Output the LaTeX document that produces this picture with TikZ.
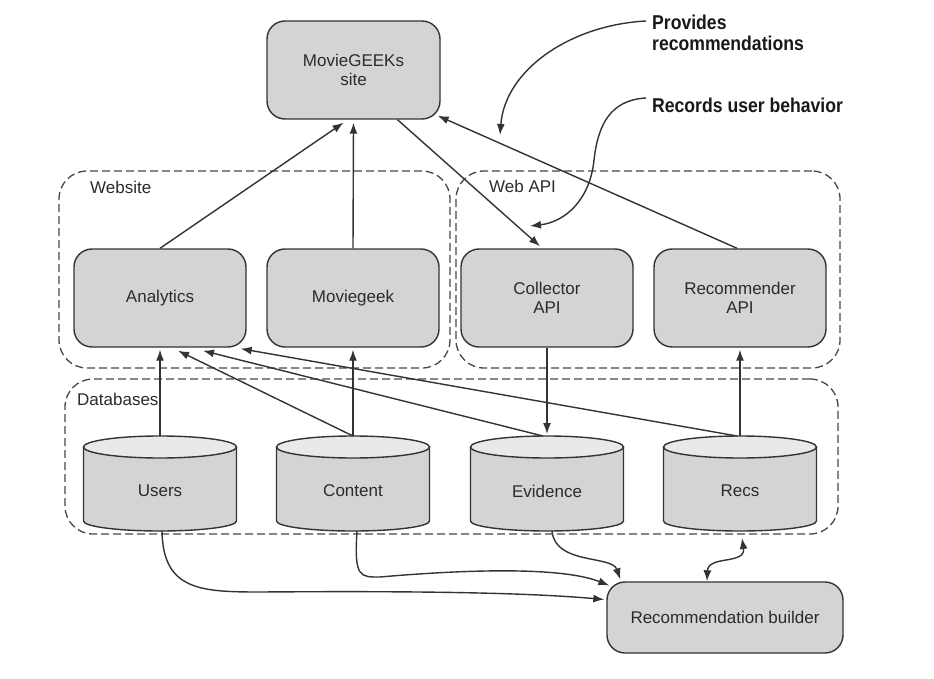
\documentclass[tikz,border=0pt]{standalone}
\usepackage{fontspec}
\setmainfont{Liberation Sans}
\newfontfamily\annotfont[FakeStretch=0.88]{Liberation Sans}
\usetikzlibrary{arrows.meta,calc}
\definecolor{boxfill}{HTML}{D4D4D4}
\definecolor{topfill}{HTML}{E9E9E9}
\definecolor{edge}{HTML}{333333}
\definecolor{txt}{HTML}{2B2B2B}
\tikzset{
  lbl/.style={text=txt, font=\fontsize{17}{19}\selectfont},
  box/.style={lbl, draw=edge, fill=boxfill, line width=1.4pt, rounded corners=18pt,
    minimum width=172pt, minimum height=98pt, align=center, inner sep=0pt},
  group/.style={draw=edge!90, dash pattern=on 8pt off 4pt, line width=1.3pt,
    rounded corners=28pt, inner sep=0pt},
  grouplabel/.style={lbl, anchor=west, inner sep=0pt},
  conn/.style={draw=edge, line width=1.4pt, -{Latex[length=11pt,width=8pt]}},
  annot/.style={anchor=west, inner sep=0pt, align=left, text=black!90,
    font=\annotfont\bfseries\fontsize{20}{21}\selectfont},
  cylbody/.style={draw=edge, fill=boxfill, line width=1.4pt},
  cyltop/.style={draw=edge, fill=topfill, line width=1.4pt},
  dbtext/.style={lbl, inner sep=0pt}
}
\newcommand\dbcyl[3]{%
  \path[cylbody] (#1-76.5,447) -- (#1-76.5,521)
    arc[start angle=180, end angle=360, x radius=76.5pt, y radius=10pt]
    -- (#1+76.5,447) -- cycle;
  \path[cyltop] (#1,447) ellipse[x radius=76.5pt, y radius=11pt];
  \node[dbtext] (#2) at (#1,491) {#3};
  \coordinate (#2-top) at (#1,436);
  \coordinate (#2-bot) at (#1,531);
}
\begin{document}
\begin{tikzpicture}[x=1pt,y=-1pt]
\fill[white] (0,0) rectangle (934,679);
\useasboundingbox (0,0) rectangle (934,679);

% groups
\node[group, minimum width=391pt, minimum height=197pt] (website) at (254.5,269.5) {};
\node[group, minimum width=384pt, minimum height=197pt] (webapi) at (648,269.5) {};
\node[group, minimum width=773pt, minimum height=155pt] (databases) at (451.5,456.5) {};
\node[grouplabel] (websitelbl) at (90,187) {Website};
\node[grouplabel] (webapilbl) at (489,186) {Web API};
\node[grouplabel] (databaseslbl) at (77,399) {Databases};

% boxes
\node[box, minimum width=173pt] (site) at (353.5,70) {MovieGEEKs\\site};
\node[box] (analytics) at (160,298) {Analytics};
\node[box] (moviegeek) at (353,298) {Moviegeek};
\node[box] (collector) at (547,298) {Collector\\API};
\node[box] (recapi) at (740,298) {Recommender\\API};
\node[box, minimum width=236pt, minimum height=71pt] (builder) at (725,617.5) {Recommendation builder};

% databases
\dbcyl{160}{users}{Users}
\dbcyl{353}{content}{Content}
\dbcyl{547}{evidence}{Evidence}
\dbcyl{740}{recs}{Recs}

% connectors
\draw[conn] (analytics.north) -- ([xshift=-10pt,yshift=-3pt]site.south);
\draw[conn] (moviegeek.north) -- ([yshift=-3pt]site.south);
\draw[conn] ([xshift=44pt]site.south) -- ([xshift=-7pt,yshift=2pt]collector.north);
\draw[conn] ([xshift=-3pt]recapi.north) -- ([xshift=-3pt,yshift=4pt]site.south east);
\draw[conn] (users-top) -- ([yshift=-2pt]analytics.south);
\draw[conn] (content-top) -- ([yshift=-2pt]moviegeek.south);
\draw[conn] (content-top) -- ([xshift=18pt,yshift=-3pt]analytics.south);
\draw[conn] ([xshift=-4pt]evidence-top) -- ([xshift=43pt,yshift=-3pt]analytics.south);
\draw[conn] ([xshift=-3pt]recs-top) -- ([xshift=-6pt,yshift=-1pt]analytics.south east);
\draw[conn] (collector.south) -- ([yshift=2pt]evidence-top);
\draw[conn] (recs-top) -- ([yshift=-2pt]recapi.south);

\draw[conn] ([xshift=2pt]users-bot) .. controls (163,590) and (200,592) .. (260,592)
  .. controls (400,591) and (520,592) .. ([xshift=-2pt,yshift=18pt]builder.west);
\draw[conn] ([xshift=4pt]content-bot) .. controls (354,578) and (360,577) .. (380,577)
  .. controls (460,570) and (560,566) .. ([xshift=3pt,yshift=32pt]builder.west);
\draw[conn] ([xshift=5pt]evidence-bot) .. controls (555,565) and (612,555) .. ([xshift=14pt,yshift=2pt]builder.north west);
\draw[draw=edge, line width=1.4pt, {Latex[length=11pt,width=8pt]}-{Latex[length=11pt,width=8pt]}]
  ([xshift=2pt,yshift=-7pt]recs-bot) .. controls (746,565) and (708,555) .. ([xshift=-18pt]builder.north);

% annotations
\node[annot] (prov) at (652,33) {Provides\\recommendations};
\node[annot] (recb) at (652,105) {Records user behavior};
\coordinate (provtip) at (500,135);
\coordinate (rectip) at (530,226);
\draw[conn] ([xshift=-6pt,yshift=12pt]prov.west) .. controls (570,25) and (505,70) .. (provtip);
\draw[conn] ([xshift=-6pt,yshift=7pt]recb.west) .. controls (610,100) and (598,125) .. (594,160)
  .. controls (590,200) and (565,222) .. (rectip);
\end{tikzpicture}
\end{document}
